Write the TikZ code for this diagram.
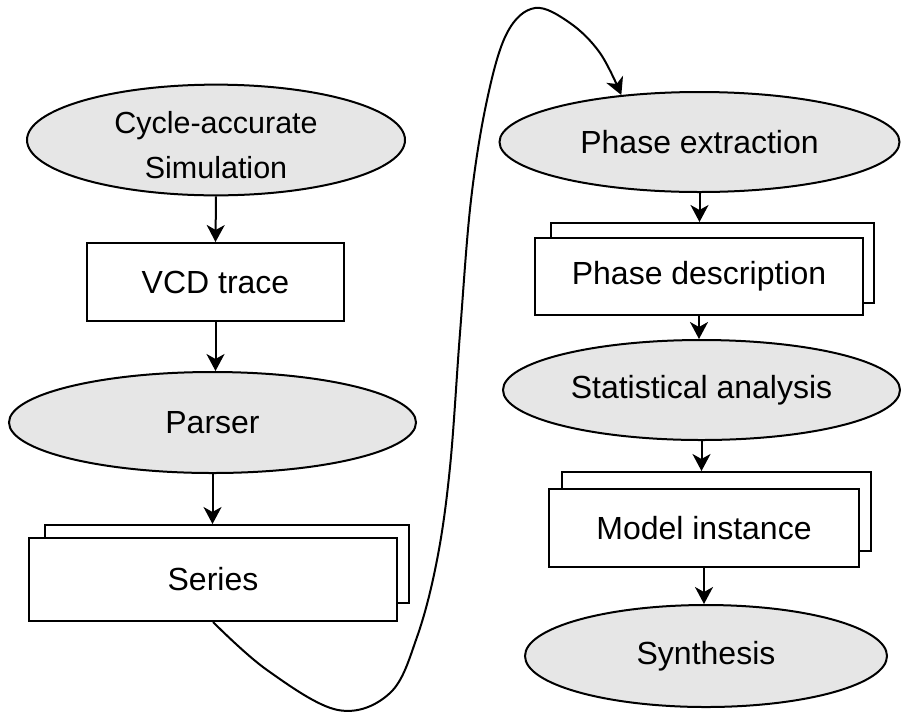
\documentclass[tikz,border=0pt]{standalone}
\usepackage{fontspec}
\setmainfont{Liberation Sans}
\usetikzlibrary{shapes.geometric,arrows.meta}
\definecolor{nodefill}{HTML}{E6E6E6}
\tikzset{
  ell/.style={ellipse,draw=black,line width=2pt,fill=nodefill,inner sep=0pt,align=center,font=\fontsize{32}{44}\selectfont},
  box/.style={rectangle,draw=black,line width=2pt,fill=white,inner sep=0pt,align=center,font=\fontsize{32}{38}\selectfont},
  conn/.style={line width=2pt,-{Stealth[length=17pt,width=18pt,inset=5pt]}}
}
\begin{document}
\begin{tikzpicture}[x=1pt,y=-1pt]
\useasboundingbox (0,0) rectangle (901,713);
% left column
\node[ell,minimum width=378pt,minimum height=106pt,font=\fontsize{30.5}{45}\selectfont] (cas) at (216,140) {\rule{0pt}{33pt}Cycle-accurate\\Simulation};
\node[box,minimum width=257pt,minimum height=78pt] (vcd) at (215.5,282) {VCD trace};
\node[ell,minimum width=407pt,minimum height=101pt] (parser) at (212.5,422.5) {Parser};
\node[box,minimum width=364pt,minimum height=78pt] (seriesb) at (227,564) {};
\node[box,minimum width=368pt,minimum height=83pt] (series) at (213,579.5) {Series};
% right column
\node[ell,minimum width=400pt,minimum height=100pt] (phext) at (699.5,142) {Phase extraction};
\node[box,minimum width=323pt,minimum height=80pt] (pdb) at (712.5,263) {};
\node[box,minimum width=328pt,minimum height=77pt] (pd) at (699,276.5) {Phase description};
\node[ell,minimum width=397pt,minimum height=100pt] (stat) at (701.5,390) {Statistical analysis};
\node[box,minimum width=309pt,minimum height=79pt] (modelb) at (716.5,511.5) {};
\node[box,minimum width=310pt,minimum height=78pt] (model) at (704,528) {Model instance};
\node[ell,minimum width=362pt,minimum height=102pt] (synth) at (706,656) {Synthesis};
% connectors
\draw[conn] (cas.south) -- (vcd.north);
\draw[conn] (vcd.north |- vcd.south) -- (vcd.north |- parser.north);
\draw[conn] (parser.south) -- (parser.south |- seriesb.north);
\draw[conn] (phext.south) -- (phext.south |- pdb.north);
\draw[conn] (pd.south) -- (pd.south |- stat.north);
\draw[conn] (stat.south) -- (stat.south |- modelb.north);
\draw[conn] (model.south) -- (model.south |- synth.north);
\draw[conn] plot[smooth,tension=0.6] coordinates {(series.south) (267,670) (338,710) (390,693) (417,637) (437,560) (450,467) (460,333) (471,200) (487,100) (507,33) (535,8) (570,23) (600,53) (phext.149)};
\end{tikzpicture}
\end{document}
